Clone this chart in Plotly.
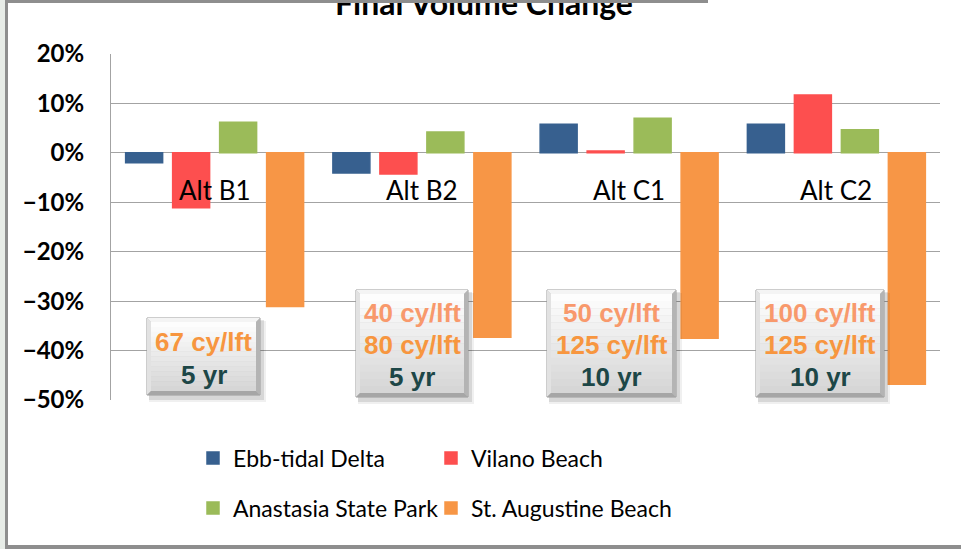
import plotly.graph_objects as go

# ---- data -------------------------------------------------------------
categories = ["Alt B1", "Alt B2", "Alt C1", "Alt C2"]

ebb_tidal_delta = [-0.020, -0.041, 0.058, 0.058]
vilano_beach = [-0.111, -0.043, 0.004, 0.117]
anastasia_state_park = [0.062, 0.042, 0.070, 0.047]
st_augustine_beach = [-0.311, -0.373, -0.375, -0.468]

series_names = ["Ebb-tidal Delta", "Vilano Beach",
                "Anastasia State Park", "St. Augustine Beach"]
series_values = [ebb_tidal_delta, vilano_beach,
                 anastasia_state_park, st_augustine_beach]

# nourishment volumes and renourishment interval per alternative
volume_lines = [["67 cy/lft"],
                ["40 cy/lft", "80 cy/lft"],
                ["50 cy/lft", "125 cy/lft"],
                ["100 cy/lft", "125 cy/lft"]]
interval_labels = ["5 yr", "5 yr", "10 yr", "10 yr"]

y_ticks = [0.2, 0.1, 0.0, -0.1, -0.2, -0.3, -0.4, -0.5]

# ---- styling / geometry ----------------------------------------------
series_colors = ["#37608f", "#fd4f4f", "#9bbb59", "#f79646"]
legend_ids = ["legend", "legend2", "legend3", "legend4"]
# legend entry anchors (left x, centre y) in pixels, two entries per row
legend_pos = [(193, 458), (431, 458), (193, 508), (431, 508)]

W, H = 961, 549
L, R, T, B = 111, 940, 54, 400          # plot area in pixels


def px_x(px):
    return (px - L) / (R - L)


def px_y(py):
    return (B - py) / (B - T)


fig = go.Figure()
for name, vals, color, lg in zip(series_names, series_values,
                                 series_colors, legend_ids):
    fig.add_trace(go.Bar(
        x=categories, y=vals, name=name, legend=lg,
        marker=dict(color=color, line=dict(color=color, width=1.5)),
    ))

shapes = []

# bevelled label boxes (pixel extents)
box_px = [(147, 260, 318, 395), (356, 468, 290, 397),
          (547, 676, 290, 397), (756, 884, 290, 397)]


def rect(x0, y0, x1, y1, fill, line=None, lw=0):
    return dict(type="rect", xref="paper", yref="paper",
                x0=px_x(x0), x1=px_x(x1), y0=px_y(y1), y1=px_y(y0),
                fillcolor=fill, line=dict(color=line or fill, width=lw),
                layer="above")


def poly(points, fill):
    d = "M" + " L".join(f"{px_x(a):.5f},{px_y(b):.5f}" for a, b in points) + " Z"
    return dict(type="path", xref="paper", yref="paper", path=d,
                fillcolor=fill, line=dict(width=0), layer="above")


for (x0, x1, y0, y1) in box_px:
    # soft drop shadow
    shapes.append(rect(x0 + 2, y0 + 3, x1 + 6, y1 + 7, "rgba(0,0,0,0.06)"))
    shapes.append(rect(x0 + 2, y0 + 2, x1 + 4, y1 + 5, "rgba(0,0,0,0.10)"))
    # outer bevel
    shapes.append(rect(x0, y0, x1, y1, "#c4c4c4", "#9a9a9a", 1))
    b = 4
    shapes.append(poly([(x0, y0), (x1, y0), (x1 - b, y0 + b), (x0 + b, y0 + b)], "#f4f4f4"))
    shapes.append(poly([(x0, y0), (x0 + b, y0 + b), (x0 + b, y1 - b), (x0, y1)], "#e2e2e2"))
    shapes.append(poly([(x1, y0), (x1, y1), (x1 - b, y1 - b), (x1 - b, y0 + b)], "#b4b4b4"))
    shapes.append(poly([(x0, y1), (x0 + b, y1 - b), (x1 - b, y1 - b), (x1, y1)], "#a6a6a6"))
    # vertical gradient face
    n = 14
    top, bot = (253, 253, 253), (214, 214, 214)
    fy0, fy1 = y0 + b, y1 - b
    for i in range(n):
        t = i / (n - 1)
        c = tuple(round(top[k] + (bot[k] - top[k]) * t) for k in range(3))
        s0 = fy0 + (fy1 - fy0) * i / n
        s1 = fy0 + (fy1 - fy0) * (i + 1) / n + 0.3
        shapes.append(rect(x0 + b, s0, x1 - b, min(s1, fy1),
                           f"rgb({c[0]},{c[1]},{c[2]})"))

# slide frame
shapes.append(rect(0, 0, 5, H, "#e7ece7"))
shapes.append(rect(5, 0, 8, H, "#8e8e8e"))
shapes.append(rect(5, 545, W, H, "#8e8e8e"))

annotations = []

# category labels sitting just below the zero line
for cat in categories:
    annotations.append(dict(
        x=cat, y=-0.075, xref="x", yref="y", text=cat, showarrow=False,
        font=dict(family="Lato", size=26, color="#000000"),
        xanchor="center", yanchor="middle"))

# text inside the boxes
orange_first = "#f8996c"
orange_main = "#f7963f"
dark_text = "#1d4747"
for (x0, x1, y0, y1), vols, interval in zip(box_px, volume_lines, interval_labels):
    cx = (x0 + x1) / 2
    if len(vols) == 1:
        rows = [(vols[0], orange_main, 342), (interval, dark_text, 375)]
    else:
        rows = [(vols[0], orange_first, 313), (vols[1], orange_main, 345),
                (interval, dark_text, 377)]
    for txt, col, cy in rows:
        annotations.append(dict(
            x=px_x(cx), y=px_y(cy), xref="paper", yref="paper", text=f"<b>{txt}</b>",
            showarrow=False, xanchor="center", yanchor="middle",
            font=dict(family="Liberation Sans", size=26, color=col)))

# chart title, its upper half running off the top edge
annotations.append(dict(
    x=px_x(484), y=px_y(2.5), xref="paper", yref="paper",
    text="<b>Final Volume Change</b>", showarrow=False,
    xanchor="center", yanchor="middle",
    font=dict(family="Lato", size=32, color="#000000")))

# grey top rule of the slide frame, drawn over the title
annotations.append(dict(
    x=px_x(5), y=px_y(0), xref="paper", yref="paper", text=" ",
    showarrow=False, xanchor="left", yanchor="top",
    width=703, height=3, borderpad=0, borderwidth=0,
    bgcolor="#8e8e8e", font=dict(size=1)))

legend_layouts = {}
for lg, (lx, ly) in zip(legend_ids, legend_pos):
    legend_layouts[lg] = dict(
        orientation="h", xref="container", yref="container",
        x=lx / W, y=1 - ly / H, xanchor="left", yanchor="middle",
        font=dict(family="Lato", size=23, color="#000000"),
        bgcolor="rgba(0,0,0,0)", borderwidth=0,
    )

fig.update_layout(
    width=W, height=H,
    margin=dict(l=L, r=W - R, t=T, b=H - B, pad=0),
    paper_bgcolor="#ffffff", plot_bgcolor="#ffffff",
    barmode="group", bargap=0.093, bargroupgap=0.213,
    showlegend=True,
    **legend_layouts,
    xaxis=dict(type="category", showticklabels=False, showgrid=False,
               zeroline=False, showline=False, ticks="",
               range=[-0.5, 3.5], fixedrange=True),
    yaxis=dict(range=[-0.5, 0.2], tickvals=y_ticks, tickformat=".0%",
               showgrid=True, gridcolor="#a3a3a3", gridwidth=1,
               zeroline=True, zerolinecolor="#a3a3a3", zerolinewidth=1,
               showline=True, linecolor="#a3a3a3", linewidth=1,
               ticks="", ticklabelstandoff=21,
               tickfont=dict(family="Lato", size=24, color="#000000",
                             weight="bold"),
               fixedrange=True),
    shapes=shapes,
    annotations=annotations,
)

fig.write_html("out.html")
